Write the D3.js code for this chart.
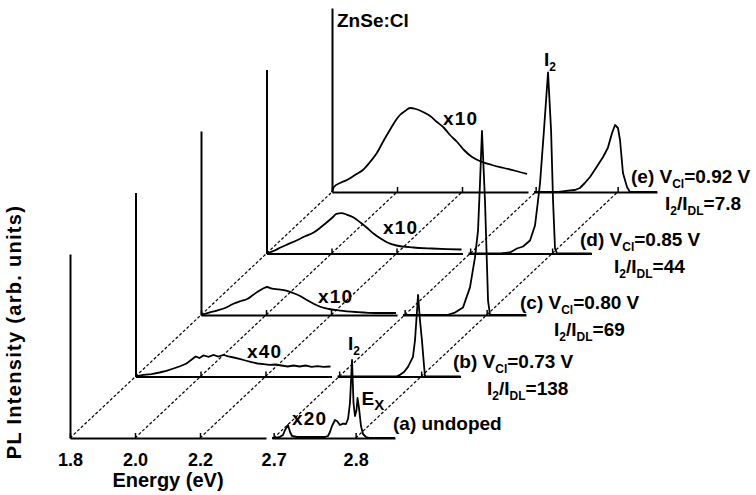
<!DOCTYPE html>
<html>
<head>
<meta charset="utf-8">
<script src="https://cdn.jsdelivr.net/npm/d3@7"></script>
<style>
  body { margin: 0; background: #fff; }
  svg { display: block; font-family: "Liberation Sans", Arial, Helvetica, sans-serif; }
</style>
</head>
<body>
<svg id="chart" width="756" height="495"></svg>
<script>
// energy axis ticks (broken axis: 1.8-2.4 and 2.7-2.85 eV)
const tickEnergies = [1.8, 2.0, 2.2, 2.7, 2.8];
const sampleIds = ["a", "b", "c", "d", "e"];
const voltages = [null, "0.73", "0.80", "0.85", "0.92"];
const ratios = [null, "138", "69", "44", "7.8"];
const multipliers = ["x20", "x40", "x10", "x10", "x10"];

// deep-level band, [energy eV, intensity arb.]
const dlA = [];
const dlB = [[1.800,0],[1.825,0.8],[1.849,1.2],[1.874,2],[1.895,2.8],[1.917,4],[1.935,5],[1.957,6.5],[1.969,8],[1.985,10],[1.997,9.2],[2.009,10.5],[2.025,9.8],[2.040,10.8],[2.055,10],[2.071,10.8],[2.086,10],[2.102,9.5],[2.120,8.8],[2.138,8],[2.157,7.2],[2.175,6.5],[2.194,6.2],[2.212,5.8],[2.231,6],[2.249,5.5],[2.268,5],[2.286,5.5],[2.305,5],[2.323,5.5],[2.342,4.8],[2.360,5.2],[2.378,4.8],[2.400,5]];
const dlC = [[1.800,0],[1.825,1.2],[1.849,2.2],[1.874,3.5],[1.898,5.5],[1.923,7],[1.942,8],[1.960,10],[1.978,12],[1.994,13.5],[2.003,14],[2.018,13.2],[2.040,12.8],[2.062,12.2],[2.083,11],[2.105,9.5],[2.126,7.5],[2.148,5.5],[2.169,4],[2.194,3],[2.228,2.2],[2.277,1.5],[2.338,1],[2.400,1]];
const dlD = [[1.800,0],[1.825,1.5],[1.843,3],[1.868,4.8],[1.892,6.5],[1.917,8.5],[1.945,10.5],[1.966,13],[1.985,15.5],[2.003,18],[2.015,19.8],[2.031,20.2],[2.046,19.5],[2.068,18],[2.089,15.5],[2.108,13],[2.129,10],[2.151,7.5],[2.172,5.5],[2.200,4],[2.252,3],[2.308,2.5],[2.354,2.2],[2.400,2]];
const dlE = [[1.800,0],[1.806,2.5],[1.825,4.5],[1.846,6],[1.871,8.5],[1.895,11],[1.917,15],[1.938,19.5],[1.960,26],[1.978,31],[1.997,36],[2.009,38.5],[2.025,40.5],[2.040,42],[2.058,41.5],[2.080,40],[2.102,38],[2.123,35],[2.142,32.5],[2.163,28.5],[2.185,25],[2.206,21],[2.231,17.5],[2.262,15],[2.292,13.5],[2.329,12],[2.366,10.5],[2.400,9]];

// near band edge region
const nbeA = [[2.698,0],[2.703,0.2],[2.7078,0.6],[2.7114,1.5],[2.7139,4],[2.7175,6.5],[2.720,3],[2.7224,1],[2.7285,0.5],[2.7443,0.5],[2.7626,0.5],[2.7663,1],[2.7687,3],[2.7712,6],[2.7748,9],[2.7773,8.5],[2.7809,6.5],[2.7846,7.2],[2.7882,7],[2.7907,9.5],[2.7931,17.5],[2.7956,39],[2.7974,17.5],[2.7992,11],[2.8011,14],[2.8023,20],[2.8041,15],[2.8065,6],[2.809,2],[2.8126,0.5],[2.8175,0],[2.848,0]];
const nbeB = [[2.698,0],[2.770,0],[2.774,0.8],[2.779,2.2],[2.784,4.8],[2.790,9.8],[2.7925,18],[2.795,33],[2.7962,40.8],[2.7986,28],[2.801,18],[2.8035,5.5],[2.8047,0],[2.848,0]];
const nbeC = [[2.698,0],[2.7517,0],[2.7614,1.2],[2.7712,3.8],[2.7797,13.8],[2.7858,28.8],[2.7895,42.2],[2.792,67],[2.7943,92],[2.798,57],[2.8017,7.2],[2.8041,0],[2.848,0]];
const nbeD = [[2.698,0],[2.737,0],[2.7486,0.5],[2.7571,2.5],[2.7645,3.5],[2.773,6.5],[2.7791,14],[2.7828,26.5],[2.7852,35],[2.790,61.5],[2.795,90.5],[2.7987,61.5],[2.8011,26.5],[2.8035,2.5],[2.806,0],[2.848,0]];
const nbeE = [[2.698,0],[2.728,0],[2.742,0.8],[2.748,1],[2.754,2],[2.760,4.5],[2.7663,7.5],[2.7736,12],[2.7822,17.5],[2.788,22],[2.7932,29.5],[2.7968,33.5],[2.8004,32],[2.8029,26],[2.8065,9.5],[2.8114,2.5],[2.815,0],[2.848,0]];

const deepLevel = [dlA, dlB, dlC, dlD, dlE];
const nearEdge = [nbeA, nbeB, nbeC, nbeD, nbeE];

// layout of the waterfall
const originX = 70, originY = 438, stepX = 65.5, stepY = -61.5;
const axisH = 184;

const x1 = d3.scaleLinear().domain([1.8, 2.403]).range([0, 196]);
const x2 = d3.scaleLinear().domain([2.698, 2.848]).range([202, 325]);
const xE = e => e < 2.5 ? x1(e) : x2(e);
const y = d3.scaleLinear().domain([0, 92]).range([0, -axisH]);

const svg = d3.select("#chart");
svg.append("rect").attr("width", 756).attr("height", 495).attr("fill", "#fff");

// dashed lines joining equal energies
const last = sampleIds.length - 1;
svg.append("g")
  .selectAll("line")
  .data(tickEnergies)
  .join("line")
    .attr("x1", d => originX + xE(d))
    .attr("y1", originY)
    .attr("x2", d => originX + last * stepX + xE(d))
    .attr("y2", originY + last * stepY)
    .attr("stroke", "#000")
    .attr("stroke-width", 1.2)
    .attr("stroke-dasharray", "3,2");

function richText(parent, parts, size) {
  const t = parent.append("text").attr("font-size", size).attr("font-weight", "bold");
  let shifted = false;
  parts.forEach(p => {
    const sub = typeof p !== "string";
    const ts = t.append("tspan").text(sub ? p.sub : p);
    if (sub) ts.attr("font-size", p.size || Math.round(size * 0.65));
    if (sub !== shifted) { ts.attr("dy", sub ? 5 : -5); shifted = sub; }
  });
  return t;
}

const lineDL = d3.line().x(d => xE(d[0])).y(d => y(d[1])).curve(d3.curveMonotoneX);
const lineRaw = d3.line().x(d => xE(d[0])).y(d => y(d[1]));

// label placement relative to each spectrum origin
const labelPos = [[323, -8], [317.5, -8.5], [319, -6.5], [313.5, -8], [299, -9]];
const multPos = [[222, -13], [111.5, -18.5], [117, -12.5], [116.5, -20], [111, -67]];

sampleIds.forEach((id, i) => {
  const g = svg.append("g")
    .attr("transform", `translate(${originX + i * stepX},${originY + i * stepY})`);

  // vertical intensity axis
  const ya = g.append("g").call(d3.axisLeft(y).tickValues([]).tickSizeOuter(0));
  ya.select(".domain").attr("stroke-width", 2);

  // broken energy axis
  [[x1, [1.8, 2.0, 2.2]], [x2, [2.7, 2.8]]].forEach(([sc, vals]) => {
    const ax = g.append("g")
      .call(d3.axisBottom(sc).tickValues(vals).tickSizeInner(-5).tickSizeOuter(0)
        .tickPadding(15).tickFormat(i === 0 ? d3.format(".1f") : () => ""));
    ax.attr("font-size", 18).attr("font-family", null).attr("font-weight", "bold");
    ax.select(".domain").attr("stroke-width", 2);
    ax.selectAll(".tick line").attr("stroke-width", 1.5);
  });

  if (deepLevel[i].length) {
    g.append("path")
      .datum(deepLevel[i])
      .attr("d", i === 1 ? lineRaw : lineDL)
      .attr("fill", "none").attr("stroke", "#000").attr("stroke-width", 1.8);
  }
  g.append("path")
    .datum(nearEdge[i])
    .attr("d", lineRaw)
    .attr("fill", "none").attr("stroke", "#000").attr("stroke-width", 1.8)
    .attr("stroke-linejoin", "round");

  g.append("text")
    .attr("x", multPos[i][0]).attr("y", multPos[i][1])
    .attr("font-size", 19).attr("font-weight", "bold").attr("letter-spacing", 1.2)
    .text(multipliers[i]);

  if (i === 0) {
    richText(g, [`(${id}) undoped`], 19)
      .attr("x", labelPos[i][0]).attr("y", labelPos[i][1]);
  } else {
    richText(g, [`(${id}) V`, { sub: "Cl" }, `=${voltages[i]} V`], 19)
      .attr("x", labelPos[i][0]).attr("y", labelPos[i][1]);
    richText(g, ["I", { sub: "2" }, "/I", { sub: "DL" }, `=${ratios[i]}`], 19)
      .attr("x", labelPos[i][0] + 34).attr("y", labelPos[i][1] + 27);
  }

  // peak annotations
  const peak = d3.greatest(nearEdge[i], d => d[1]);
  if (i === 0 || i === 3) {
    richText(g, ["I", { sub: "2" }], 19)
      .attr("x", xE(peak[0]) - 4).attr("y", y(peak[1]) - (i === 0 ? 10 : 7));
  }
  if (i === 0) {
    const ex = nearEdge[i].filter(d => d[0] > peak[0] + 0.003);
    const exPeak = d3.greatest(ex, d => d[1]);
    richText(g, ["E", { sub: "X", size: 15 }], 19)
      .attr("x", xE(exPeak[0]) + 4).attr("y", y(exPeak[1]) + 7);
  }
});

// titles
svg.append("text")
  .attr("x", 337).attr("y", 27)
  .attr("font-size", 19).attr("font-weight", "bold")
  .text("ZnSe:Cl");

svg.append("text")
  .attr("x", 168).attr("y", 487)
  .attr("text-anchor", "middle")
  .attr("font-size", 20).attr("font-weight", "bold")
  .text("Energy (eV)");

svg.append("text")
  .attr("transform", "translate(21,332) rotate(-90)")
  .attr("text-anchor", "middle")
  .attr("font-size", 20).attr("font-weight", "bold").attr("letter-spacing", 1.3)
  .text("PL Intensity (arb. units)");
</script>
</body>
</html>
